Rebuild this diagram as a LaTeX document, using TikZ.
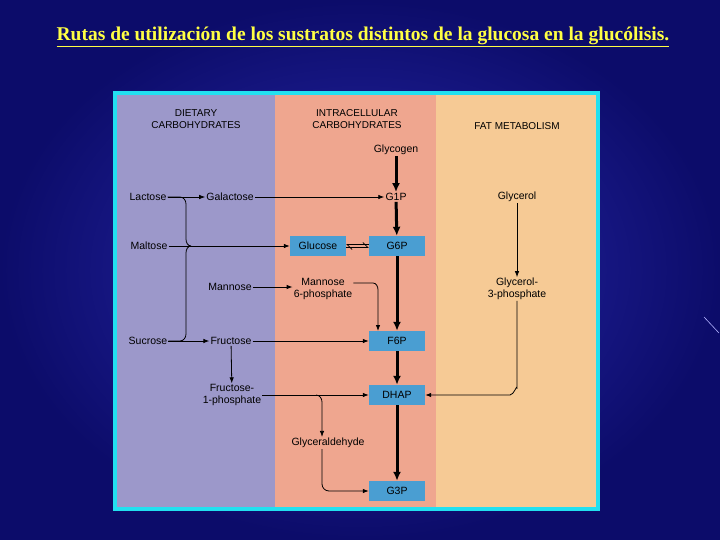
\documentclass[tikz,border=0pt]{standalone}
\usepackage{fontspec}
\setmainfont{Liberation Sans}
\newfontfamily\titlefont{Liberation Serif}
\usetikzlibrary{arrows.meta}
\definecolor{bgin}{HTML}{2A2AB0}
\definecolor{bgout}{HTML}{0C0C6A}
\definecolor{pur}{HTML}{9C98CA}
\definecolor{sal}{HTML}{EFA68F}
\definecolor{tan}{HTML}{F6CA95}
\definecolor{bx}{HTML}{4A9ED2}
\definecolor{cyanb}{HTML}{22E0F0}
\definecolor{ttl}{HTML}{FFFF44}
\tikzset{
 lbl/.style={font=\fontsize{10.5}{11.5}\selectfont, inner sep=1pt, align=center},
 hdr/.style={font=\fontsize{10}{11.5}\selectfont, align=center, inner sep=0pt},
 bbox/.style={lbl, fill=bx, minimum width=56pt, minimum height=20pt},
 ar/.style={-{Latex[length=6pt,width=4.5pt]}, line width=0.8pt},
 ln/.style={line width=0.8pt},
 thick/.style={-{Latex[length=9pt,width=8pt]}, line width=3pt},
}
\begin{document}
\begin{tikzpicture}[x=1pt,y=-1pt]
\useasboundingbox (0,0) rectangle (720,540);
\shade[inner color=bgin, outer color=bgout] (0,0) rectangle (720,540);
\draw[white!70!blue, line width=0.6pt] (704,317) -- (719,333);
\node[font=\titlefont\bfseries\fontsize{19.5}{21}\selectfont, text=ttl] (title) at (363,37) {\underline{Rutas de utilización de los sustratos distintos de la glucosa en la glucólisis.}};
\fill[cyanb] (113,91) rectangle (600,511);
\fill[pur] (117,95) rectangle (275,507);
\fill[sal] (275,95) rectangle (436,507);
\fill[tan] (436,95) rectangle (596,507);
\node[hdr] (h1) at (196,119) {DIETARY\\CARBOHYDRATES};
\node[hdr] (h2) at (357,119) {INTRACELLULAR\\CARBOHYDRATES};
\node[hdr] (h3) at (517,126) {FAT METABOLISM};
\node[lbl] (glycogen) at (396,150) {Glycogen};
\node[lbl] (g1p) at (396,197) {G1P};
\node[bbox] (g6p) at (397,246) {G6P};
\node[bbox] (glucose) at (318,246) {Glucose};
\node[bbox] (f6p) at (397,341) {F6P};
\node[bbox] (dhap) at (397,395) {DHAP};
\node[bbox] (g3p) at (397,491) {G3P};
\node[lbl] (lactose) at (148,197) {Lactose};
\node[lbl] (galactose) at (230,197) {Galactose};
\node[lbl] (maltose) at (149,246) {Maltose};
\node[lbl] (mannose) at (230,287) {Mannose};
\node[lbl] (m6p) at (323,289) {Mannose\\6-phosphate};
\node[lbl] (sucrose) at (148,341) {Sucrose};
\node[lbl] (fructose) at (231,341) {Fructose};
\node[lbl] (f1p) at (232,395) {Fructose-\\1-phosphate};
\node[lbl] (glyald) at (328,443) {Glyceraldehyde};
\node[lbl] (glycerol) at (517,197) {Glycerol};
\node[lbl] (g3phos) at (517,289) {Glycerol-\\3-phosphate};
\coordinate (bm) at (191,246);
\draw[thick] (glycogen) -- (g1p);
\draw[thick] (g1p) -- (g6p);
\draw[thick] (g6p) -- (f6p);
\draw[thick] (f6p) -- (dhap);
\draw[thick] (dhap) -- (g3p);
\draw[ln] (lactose.east) -- (180,197) to[out=0,in=90] (186,204) -- (186,239) to[out=-90,in=180] (bm);
\draw[ln] (sucrose.east) -- (180,341) to[out=0,in=-90] (186,334) -- (186,253) to[out=90,in=180] (bm);
\draw[ar] (lactose) -- (galactose);
\draw[ar] (sucrose) -- (fructose);
\draw[ar] (galactose) -- (g1p);
\draw[ar] (maltose) -- (glucose);
\draw[ln,-{Straight Barb[left,length=5pt]}] ([yshift=-1.5pt]glucose.east) -- ([yshift=-1.5pt]g6p.west);
\draw[ln,-{Straight Barb[left,length=5pt]}] ([yshift=1.5pt]g6p.west) -- ([yshift=1.5pt]glucose.east);
\draw[ar] (mannose) -- (m6p.west |- mannose);
\draw[ar] (m6p.east |- 0,283) -- (373,283) to[out=0,in=90] (378,290) -- (378,331);
\draw[ar] (fructose) -- (f6p);
\draw[ar] (fructose) -- (f1p);
\draw[ar] (f1p.east |- dhap) -- (dhap);
\draw[ar] (316,395) to[out=0,in=90] (322,402) -- (glyald.north -| 322,0);
\draw[ar] (glyald.south -| 322,0) -- (322,484) to[out=-90,in=180] (329,491) -- (g3p);
\draw[ar] (glycerol) -- (g3phos);
\draw[ar] (g3phos.south -| 517,0) -- (517,388) to[out=90,in=0] (510,395) -- (dhap);
\end{tikzpicture}
\end{document}
